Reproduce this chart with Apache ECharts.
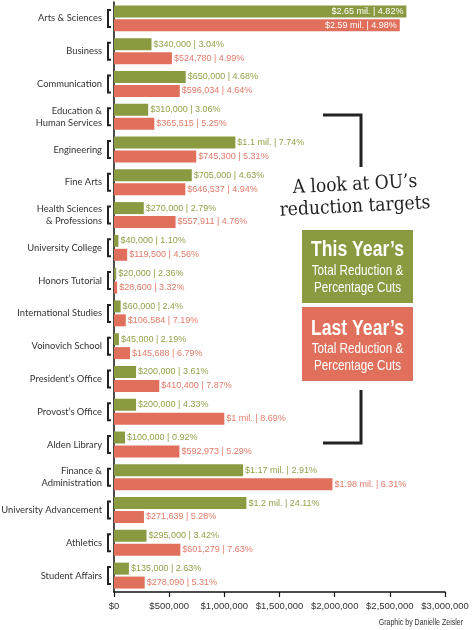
<!DOCTYPE html>
<html><head><meta charset="utf-8">
<script src="https://cdn.jsdelivr.net/npm/echarts@6/dist/echarts.min.js"></script>
<style>html,body{margin:0;padding:0;background:#fff}#c{width:475px;height:630px}</style>
</head><body><div id="c"></div>
<script>
const categories = ['Arts & Sciences','Business','Communication','Education &\nHuman Services','Engineering','Fine Arts','Health Sciences\n& Professions','University College','Honors Tutorial','International Studies','Voinovich School',"President\u2019s Office","Provost\u2019s Office",'Alden Library','Finance &\nAdministration','University Advancement','Athletics','Student Affairs'];
const thisYear = [2650000,340000,650000,310000,1100000,705000,270000,40000,20000,60000,45000,200000,200000,100000,1170000,1200000,295000,135000];
const lastYear = [2590000,524780,596034,365515,745300,646537,557911,119500,28600,106584,145688,410400,1000000,592973,1980000,271639,601279,278090];
const thisYearPct = ['4.82%','3.04%','4.68%','3.06%','7.74%','4.63%','2.79%','1.10%','2.36%','2.4%','2.19%','3.61%','4.33%','0.92%','2.91%','24.11%','3.42%','2.63%'];
const lastYearPct = ['4.98%','4.99%','4.64%','5.25%','5.31%','4.94%','4.76%','4.56%','3.32%','7.19%','6.79%','7.87%','8.69%','5.29%','6.31%','5.28%','7.63%','5.31%'];
const xTickLabels = ['$0','$500,000','$1,000,000','$1,500,000','$2,000,000','$2,500,000','$3,000,000'];

const GREEN = '#8a9a40', RED = '#e0705c';
const GREEN_T = '#94a14a', RED_T = '#e27b69';
const SANS = '"Liberation Sans", Arial, sans-serif';
const LABEL = 'Lato, "Noto Sans", sans-serif';

function fmtAmount(v){
  if (v >= 1000000) return '$' + String(+(v/1000000).toFixed(2)) + ' mil.';
  return '$' + v.toLocaleString('en-US');
}
function barData(vals){
  return vals.map(v => v > 2200000 ? {value: v, label: {position: 'insideRight', color: '#fff', distance: 3}} : v);
}
function narrowText(txt, cx, cy, font, sx, align, rot){
  return {type: 'text', x: cx, y: cy, scaleX: sx, rotation: rot || 0,
    style: {text: txt, x: 0, y: 0, align: align || 'center', verticalAlign: 'middle', font: font, fill: '#fff'}};
}

const chart = echarts.init(document.getElementById('c'), null, {renderer: 'canvas'});
chart.setOption({
  animation: false,
  backgroundColor: '#fff',
  grid: {left: 114, right: 30, top: 2, bottom: 38, containLabel: false, outerBoundsMode: 'none'},
  xAxis: {
    type: 'value', min: 0, max: 3000000, interval: 500000,
    axisLine: {show: true, lineStyle: {color: '#111', width: 1.5}},
    axisTick: {show: true, length: 5, lineStyle: {color: '#111', width: 1.2}},
    splitLine: {show: false},
    axisLabel: {margin: 9, fontFamily: SANS, fontSize: 9.5, color: '#333',
      formatter: (v, i) => xTickLabels[i]}
  },
  yAxis: {
    type: 'category', data: categories, inverse: true,
    axisLine: {show: true, lineStyle: {color: '#111', width: 1.5}},
    axisTick: {show: false},
    axisLabel: {margin: 12, fontFamily: LABEL, fontSize: 9.4, color: '#333', lineHeight: 12, align: 'right'}
  },
  series: [
    {
      type: 'bar', name: 'This Year', data: barData(thisYear), barWidth: 12, barGap: '16%',
      itemStyle: {color: GREEN},
      label: {show: true, position: 'right', distance: 2, fontFamily: SANS, fontSize: 9, color: GREEN_T,
        formatter: p => fmtAmount(p.value) + ' | ' + thisYearPct[p.dataIndex]}
    },
    {
      type: 'bar', name: 'Last Year', data: barData(lastYear), barWidth: 12,
      itemStyle: {color: RED},
      label: {show: true, position: 'right', distance: 2, fontFamily: SANS, fontSize: 9, color: RED_T,
        formatter: p => fmtAmount(p.value) + ' | ' + lastYearPct[p.dataIndex]}
    },
    {
      type: 'custom', name: 'brackets', clip: false, silent: true,
      data: categories.map((c, i) => [0, i]),
      encode: {x: 0, y: 1},
      renderItem: (params, api) => {
        const p = api.coord([0, api.value(1)]);
        const x = p[0] - 6, y = p[1];
        const h = 8.5;
        return {type: 'polyline', shape: {points: [[x + 3, y - h], [x, y - h], [x, y + h], [x + 3, y + h]]},
          style: {stroke: '#222', lineWidth: 2, fill: null}};
      }
    }
  ],
  graphic: [
    {type: 'polyline', shape: {points: [[323, 115], [361, 115], [361, 167]]}, style: {stroke: '#222', lineWidth: 3, fill: null}},
    {type: 'polyline', shape: {points: [[361, 390], [361, 443], [323, 443]]}, style: {stroke: '#222', lineWidth: 3, fill: null}},
    {type: 'text', x: 355, y: 185, rotation: 0.05, style: {text: 'A look at OU\u2019s', x: 0, y: 0, align: 'center', verticalAlign: 'middle', font: '19px "DejaVu Serif Condensed", "DejaVu Serif", serif', fill: '#222'}},
    {type: 'text', x: 355, y: 207, rotation: 0.05, style: {text: 'reduction targets', x: 0, y: 0, align: 'center', verticalAlign: 'middle', font: '19px "DejaVu Serif Condensed", "DejaVu Serif", serif', fill: '#222'}},
    {type: 'rect', shape: {x: 302, y: 230, width: 111, height: 73}, style: {fill: GREEN}},
    narrowText('This Year\u2019s', 357.5, 250, 'bold 22px ' + SANS, 0.8),
    narrowText('Total Reduction &', 357.5, 271, '15px ' + SANS, 0.78),
    narrowText('Percentage Cuts', 357.5, 288, '15px ' + SANS, 0.78),
    {type: 'rect', shape: {x: 302, y: 307, width: 111, height: 74}, style: {fill: RED}},
    narrowText('Last Year\u2019s', 357.5, 329, 'bold 22px ' + SANS, 0.8),
    narrowText('Total Reduction &', 357.5, 349, '15px ' + SANS, 0.78),
    narrowText('Percentage Cuts', 357.5, 366, '15px ' + SANS, 0.78),
    {type: 'text', x: 463, y: 623, scaleX: 0.78, style: {text: 'Graphic by Danielle Zeisler', x: 0, y: 0, align: 'right', verticalAlign: 'middle', font: '9px ' + SANS, fill: '#333'}}
  ]
});
</script>
</body></html>
